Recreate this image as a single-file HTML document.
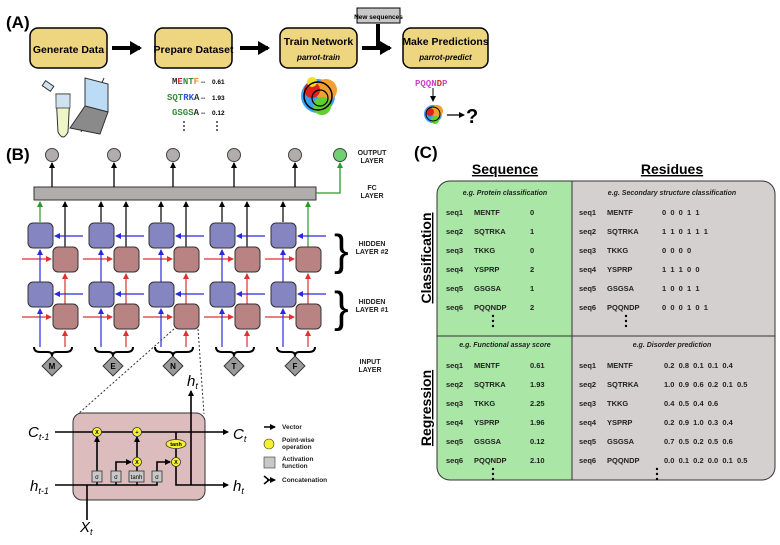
<!DOCTYPE html>
<html><head><meta charset="utf-8"><style>
body{margin:0;background:#fff}
svg{display:block;font-family:"Liberation Sans",sans-serif}
.b{font-weight:bold}
</style></head><body>
<svg width="780" height="545" viewBox="0 0 780 545" xmlns="http://www.w3.org/2000/svg">
<defs>
<marker id="ah" markerWidth="6" markerHeight="6" refX="5" refY="3" orient="auto" markerUnits="userSpaceOnUse"><path d="M0,0 L6,3 L0,6 z" fill="#000"/></marker>
<marker id="ab" markerWidth="6" markerHeight="6" refX="5" refY="3" orient="auto" markerUnits="userSpaceOnUse"><path d="M0,0 L6,3 L0,6 z" fill="#2a2ae0"/></marker>
<marker id="ar" markerWidth="6" markerHeight="6" refX="5" refY="3" orient="auto" markerUnits="userSpaceOnUse"><path d="M0,0 L6,3 L0,6 z" fill="#e03030"/></marker>
<marker id="ag" markerWidth="6" markerHeight="6" refX="5" refY="3" orient="auto" markerUnits="userSpaceOnUse"><path d="M0,0 L6,3 L0,6 z" fill="#2a9a2a"/></marker>
<marker id="big" markerWidth="12" markerHeight="14" refX="10" refY="7" orient="auto" markerUnits="userSpaceOnUse"><path d="M0,0 L12,7 L0,14 z" fill="#000"/></marker>
</defs>

<!-- (A) -->
<text x="6" y="28" font-size="17" class="b">(A)</text>
<g stroke="#000" stroke-width="1.5" fill="#eed680">
<rect x="30" y="28" width="77" height="40" rx="8"/>
<rect x="155" y="28" width="77" height="40" rx="8"/>
<rect x="280" y="28" width="77" height="40" rx="8"/>
<rect x="403" y="28" width="85" height="40" rx="8"/>
</g>
<text x="68.5" y="53" font-size="10.5" class="b" text-anchor="middle">Generate Data</text>
<text x="193.5" y="53" font-size="10.5" class="b" text-anchor="middle">Prepare Dataset</text>
<text x="318.5" y="45" font-size="10.5" class="b" text-anchor="middle">Train Network</text>
<text x="318.5" y="60" font-size="8" font-style="italic" font-weight="bold" text-anchor="middle">parrot-train</text>
<text x="445.5" y="45" font-size="10.5" class="b" text-anchor="middle">Make Predictions</text>
<text x="445.5" y="60" font-size="8" font-style="italic" font-weight="bold" text-anchor="middle">parrot-predict</text>
<g stroke="#000" stroke-width="4">
<line x1="112" y1="48" x2="140" y2="48" marker-end="url(#big)"/>
<line x1="240" y1="48" x2="268" y2="48" marker-end="url(#big)"/>
<line x1="362" y1="48" x2="390" y2="48" marker-end="url(#big)"/>
<line x1="378" y1="24" x2="378" y2="48"/>
</g>
<rect x="357" y="8" width="43" height="15" fill="#c8c8c8" stroke="#000"/>
<text x="378.5" y="19" font-size="6.5" class="b" text-anchor="middle">New sequences</text>
<!-- tube & laptop -->
<path d="M56,94 L70,94 L68,132 Q63,142 58,132 Z" fill="#eef6c8" stroke="#333"/>
<path d="M56,94 L70,94 L70,108 L56,108 Z" fill="#cfe2f0" stroke="#333" stroke-width="0.7"/>
<rect x="43" y="83" width="10" height="6" fill="#cfe2f0" stroke="#333" transform="rotate(35 48 86)"/>
<line x1="104" y1="78" x2="81" y2="132" stroke="#333"/>
<path d="M85,78 L108,84 L108,112 L85,106 Z" fill="#bcdcf5" stroke="#333"/>
<path d="M85,106 L108,112 L100,134 L70,128 Z" fill="#8a8a8a" stroke="#333"/>
<g font-family="Liberation Mono,monospace" font-size="9" font-weight="bold">
<text x="172" y="84"><tspan fill="#333">M</tspan><tspan fill="#d03030">E</tspan><tspan fill="#3a8a3a">N</tspan><tspan fill="#3a8a3a">T</tspan><tspan fill="#e89030">F</tspan></text>
<text x="167" y="100" fill="#3a8a3a">SQT<tspan fill="#3050e0">RK</tspan><tspan fill="#333">A</tspan></text>
<text x="172" y="115" fill="#3a8a3a">GSGS<tspan fill="#333">A</tspan></text>
<text x="415" y="86" fill="#d040d0">PQQN<tspan fill="#d03030">D</tspan>P</text>
</g>
<g font-size="6.5" class="b"><text x="201" y="84">--</text><text x="212" y="84">0.61</text>
<text x="201" y="100">--</text><text x="212" y="100">1.93</text>
<text x="201" y="115">--</text><text x="212" y="115">0.12</text></g>
<g fill="#000"><circle cx="184" cy="122" r="0.9"/><circle cx="184" cy="126" r="0.9"/><circle cx="184" cy="130" r="0.9"/>
<circle cx="217" cy="122" r="0.9"/><circle cx="217" cy="126" r="0.9"/><circle cx="217" cy="130" r="0.9"/></g>
<!-- parrots -->
<g>
<circle cx="318" cy="96" r="17" fill="#3aa0f0"/><circle cx="326" cy="90" r="11" fill="#f0a030"/><circle cx="312" cy="90" r="8" fill="#e02020"/><circle cx="322" cy="106" r="9" fill="#60d030"/><circle cx="312" cy="82" r="5" fill="#f0e020"/>
<circle cx="318" cy="96" r="14" fill="none" stroke="#000" stroke-width="1.5"/><circle cx="320" cy="98" r="8" fill="none" stroke="#000" stroke-width="1.2"/>
<circle cx="433" cy="114" r="9" fill="#3aa0f0"/><circle cx="437" cy="111" r="6" fill="#f0a030"/><circle cx="430" cy="112" r="4" fill="#e02020"/><circle cx="435" cy="120" r="4" fill="#60d030"/>
<circle cx="433" cy="114" r="7" fill="none" stroke="#000"/>
</g>
<line x1="433" y1="88" x2="433" y2="101" stroke="#000" marker-end="url(#ah)"/>
<line x1="447" y1="115" x2="464" y2="115" stroke="#000" stroke-width="1.3" marker-end="url(#ah)"/>
<text x="466" y="123" font-size="20" class="b">?</text>

<!-- (B) -->
<text x="6" y="160" font-size="17" class="b">(B)</text>
<g fill="#b2adad" stroke="#444">
<circle cx="52" cy="155" r="6.5"/><circle cx="114" cy="155" r="6.5"/><circle cx="173" cy="155" r="6.5"/><circle cx="234" cy="155" r="6.5"/><circle cx="295" cy="155" r="6.5"/>
</g>
<circle cx="340" cy="155" r="6.5" fill="#70d070" stroke="#444"/>
<rect x="34" y="187" width="282" height="13" fill="#b2adad" stroke="#333"/>
<g stroke="#000" stroke-width="1.3" marker-end="url(#ah)">
<line x1="52" y1="187" x2="52" y2="163"/><line x1="114" y1="187" x2="114" y2="163"/><line x1="173" y1="187" x2="173" y2="163"/><line x1="234" y1="187" x2="234" y2="163"/><line x1="295" y1="187" x2="295" y2="163"/>
</g>
<path d="M316,193 L340,193 L340,163" fill="none" stroke="#2a9a2a" stroke-width="1.3" marker-end="url(#ag)"/>
<g font-size="7" class="b" text-anchor="middle" fill="#222">
<text x="372" y="155">OUTPUT</text><text x="372" y="163">LAYER</text>
<text x="372" y="190">FC</text><text x="372" y="198">LAYER</text>
<text x="372" y="246">HIDDEN</text><text x="372" y="254">LAYER #2</text>
<text x="372" y="304">HIDDEN</text><text x="372" y="312">LAYER #1</text>
<text x="370" y="364">INPUT</text><text x="370" y="372">LAYER</text>
</g>
<g font-size="44" fill="#000"><text x="334" y="265">}</text><text x="334" y="322">}</text></g>

<g>
<g stroke-width="1.2">
<line x1="40" y1="222" x2="40" y2="202" stroke="#2a9a2a" marker-end="url(#ag)"/>
<line x1="65" y1="247" x2="65" y2="202" stroke="#000" marker-end="url(#ah)"/>
<line x1="83" y1="236" x2="55" y2="236" stroke="#2a2ae0" marker-end="url(#ab)"/>
<line x1="22" y1="259" x2="51" y2="259" stroke="#e03030" marker-end="url(#ar)"/>
<line x1="40" y1="282" x2="40" y2="250" stroke="#2a2ae0" marker-end="url(#ab)"/>
<line x1="65" y1="304" x2="65" y2="274" stroke="#e03030" marker-end="url(#ar)"/>
<line x1="83" y1="294" x2="55" y2="294" stroke="#2a2ae0" marker-end="url(#ab)"/>
<line x1="22" y1="317" x2="51" y2="317" stroke="#e03030" marker-end="url(#ar)"/>
<line x1="40" y1="347" x2="40" y2="309" stroke="#2a2ae0" marker-end="url(#ab)"/>
<line x1="65" y1="347" x2="65" y2="331" stroke="#e03030" marker-end="url(#ar)"/>
</g>
<g stroke="#333" stroke-width="1">
<rect x="28" y="223" width="25" height="25" rx="5" fill="#8585c2"/>
<rect x="53" y="247" width="25" height="25" rx="5" fill="#b98383"/>
<rect x="28" y="282" width="25" height="25" rx="5" fill="#8585c2"/>
<rect x="53" y="304" width="25" height="25" rx="5" fill="#b98383"/>
</g>
<path d="M34,347 Q34,352 40,352 L48,352 Q52,352 52,356 Q52,352 56,352 L66,352 Q72,352 72,347" fill="none" stroke="#000" stroke-width="2"/>
<rect x="45" y="359" width="14" height="14" fill="#999" stroke="#333" transform="rotate(45 52 366)"/>
</g>
<text x="52" y="369" font-size="8" class="b" text-anchor="middle">M</text>
<g transform="translate(61,0)">
<g stroke-width="1.2">
<line x1="40" y1="222" x2="40" y2="202" stroke="#000" marker-end="url(#ah)"/>
<line x1="65" y1="247" x2="65" y2="202" stroke="#000" marker-end="url(#ah)"/>
<line x1="83" y1="236" x2="55" y2="236" stroke="#2a2ae0" marker-end="url(#ab)"/>
<line x1="22" y1="259" x2="51" y2="259" stroke="#e03030" marker-end="url(#ar)"/>
<line x1="40" y1="282" x2="40" y2="250" stroke="#2a2ae0" marker-end="url(#ab)"/>
<line x1="65" y1="304" x2="65" y2="274" stroke="#e03030" marker-end="url(#ar)"/>
<line x1="83" y1="294" x2="55" y2="294" stroke="#2a2ae0" marker-end="url(#ab)"/>
<line x1="22" y1="317" x2="51" y2="317" stroke="#e03030" marker-end="url(#ar)"/>
<line x1="40" y1="347" x2="40" y2="309" stroke="#2a2ae0" marker-end="url(#ab)"/>
<line x1="65" y1="347" x2="65" y2="331" stroke="#e03030" marker-end="url(#ar)"/>
</g>
<g stroke="#333"><rect x="28" y="223" width="25" height="25" rx="5" fill="#8585c2"/><rect x="53" y="247" width="25" height="25" rx="5" fill="#b98383"/><rect x="28" y="282" width="25" height="25" rx="5" fill="#8585c2"/><rect x="53" y="304" width="25" height="25" rx="5" fill="#b98383"/></g>
<path d="M34,347 Q34,352 40,352 L48,352 Q52,352 52,356 Q52,352 56,352 L66,352 Q72,352 72,347" fill="none" stroke="#000" stroke-width="2"/>
<rect x="45" y="359" width="14" height="14" fill="#999" stroke="#333" transform="rotate(45 52 366)"/>
<text x="52" y="369" font-size="8" class="b" text-anchor="middle">E</text>
</g>
<g transform="translate(121,0)">
<g stroke-width="1.2">
<line x1="40" y1="222" x2="40" y2="202" stroke="#000" marker-end="url(#ah)"/>
<line x1="65" y1="247" x2="65" y2="202" stroke="#000" marker-end="url(#ah)"/>
<line x1="83" y1="236" x2="55" y2="236" stroke="#2a2ae0" marker-end="url(#ab)"/>
<line x1="22" y1="259" x2="51" y2="259" stroke="#e03030" marker-end="url(#ar)"/>
<line x1="40" y1="282" x2="40" y2="250" stroke="#2a2ae0" marker-end="url(#ab)"/>
<line x1="65" y1="304" x2="65" y2="274" stroke="#e03030" marker-end="url(#ar)"/>
<line x1="83" y1="294" x2="55" y2="294" stroke="#2a2ae0" marker-end="url(#ab)"/>
<line x1="22" y1="317" x2="51" y2="317" stroke="#e03030" marker-end="url(#ar)"/>
<line x1="40" y1="347" x2="40" y2="309" stroke="#2a2ae0" marker-end="url(#ab)"/>
<line x1="65" y1="347" x2="65" y2="331" stroke="#e03030" marker-end="url(#ar)"/>
</g>
<g stroke="#333"><rect x="28" y="223" width="25" height="25" rx="5" fill="#8585c2"/><rect x="53" y="247" width="25" height="25" rx="5" fill="#b98383"/><rect x="28" y="282" width="25" height="25" rx="5" fill="#8585c2"/><rect x="53" y="304" width="25" height="25" rx="5" fill="#b98383"/></g>
<path d="M34,347 Q34,352 40,352 L48,352 Q52,352 52,356 Q52,352 56,352 L66,352 Q72,352 72,347" fill="none" stroke="#000" stroke-width="2"/>
<rect x="45" y="359" width="14" height="14" fill="#999" stroke="#333" transform="rotate(45 52 366)"/>
<text x="52" y="369" font-size="8" class="b" text-anchor="middle">N</text>
</g>
<g transform="translate(182,0)">
<g stroke-width="1.2">
<line x1="40" y1="222" x2="40" y2="202" stroke="#000" marker-end="url(#ah)"/>
<line x1="65" y1="247" x2="65" y2="202" stroke="#000" marker-end="url(#ah)"/>
<line x1="83" y1="236" x2="55" y2="236" stroke="#2a2ae0" marker-end="url(#ab)"/>
<line x1="22" y1="259" x2="51" y2="259" stroke="#e03030" marker-end="url(#ar)"/>
<line x1="40" y1="282" x2="40" y2="250" stroke="#2a2ae0" marker-end="url(#ab)"/>
<line x1="65" y1="304" x2="65" y2="274" stroke="#e03030" marker-end="url(#ar)"/>
<line x1="83" y1="294" x2="55" y2="294" stroke="#2a2ae0" marker-end="url(#ab)"/>
<line x1="22" y1="317" x2="51" y2="317" stroke="#e03030" marker-end="url(#ar)"/>
<line x1="40" y1="347" x2="40" y2="309" stroke="#2a2ae0" marker-end="url(#ab)"/>
<line x1="65" y1="347" x2="65" y2="331" stroke="#e03030" marker-end="url(#ar)"/>
</g>
<g stroke="#333"><rect x="28" y="223" width="25" height="25" rx="5" fill="#8585c2"/><rect x="53" y="247" width="25" height="25" rx="5" fill="#b98383"/><rect x="28" y="282" width="25" height="25" rx="5" fill="#8585c2"/><rect x="53" y="304" width="25" height="25" rx="5" fill="#b98383"/></g>
<path d="M34,347 Q34,352 40,352 L48,352 Q52,352 52,356 Q52,352 56,352 L66,352 Q72,352 72,347" fill="none" stroke="#000" stroke-width="2"/>
<rect x="45" y="359" width="14" height="14" fill="#999" stroke="#333" transform="rotate(45 52 366)"/>
<text x="52" y="369" font-size="8" class="b" text-anchor="middle">T</text>
</g>
<g transform="translate(243,0)">
<g stroke-width="1.2">
<line x1="40" y1="222" x2="40" y2="202" stroke="#000" marker-end="url(#ah)"/>
<line x1="65" y1="247" x2="65" y2="202" stroke="#2a9a2a" marker-end="url(#ag)"/>
<line x1="83" y1="236" x2="55" y2="236" stroke="#2a2ae0" marker-end="url(#ab)"/>
<line x1="22" y1="259" x2="51" y2="259" stroke="#e03030" marker-end="url(#ar)"/>
<line x1="40" y1="282" x2="40" y2="250" stroke="#2a2ae0" marker-end="url(#ab)"/>
<line x1="65" y1="304" x2="65" y2="274" stroke="#e03030" marker-end="url(#ar)"/>
<line x1="83" y1="294" x2="55" y2="294" stroke="#2a2ae0" marker-end="url(#ab)"/>
<line x1="22" y1="317" x2="51" y2="317" stroke="#e03030" marker-end="url(#ar)"/>
<line x1="40" y1="347" x2="40" y2="309" stroke="#2a2ae0" marker-end="url(#ab)"/>
<line x1="65" y1="347" x2="65" y2="331" stroke="#e03030" marker-end="url(#ar)"/>
</g>
<g stroke="#333"><rect x="28" y="223" width="25" height="25" rx="5" fill="#8585c2"/><rect x="53" y="247" width="25" height="25" rx="5" fill="#b98383"/><rect x="28" y="282" width="25" height="25" rx="5" fill="#8585c2"/><rect x="53" y="304" width="25" height="25" rx="5" fill="#b98383"/></g>
<path d="M34,347 Q34,352 40,352 L48,352 Q52,352 52,356 Q52,352 56,352 L66,352 Q72,352 72,347" fill="none" stroke="#000" stroke-width="2"/>
<rect x="45" y="359" width="14" height="14" fill="#999" stroke="#333" transform="rotate(45 52 366)"/>
<text x="52" y="369" font-size="8" class="b" text-anchor="middle">F</text>
</g>

<!-- dashed zoom lines -->
<line x1="174" y1="329" x2="78" y2="414" stroke="#333" stroke-dasharray="2,2"/>
<line x1="198" y1="329" x2="204" y2="414" stroke="#333" stroke-dasharray="2,2"/>

<!-- LSTM cell -->
<rect x="73" y="413" width="132" height="87" rx="9" fill="#dcbcbc" stroke="#333"/>
<g stroke="#000" stroke-width="1.6" fill="none">
<line x1="55" y1="432" x2="228" y2="432" marker-end="url(#ah)"/>
<path d="M55,485 L157,485 L157,470"/>
<path d="M176,432 L176,440 M176,448 L176,458 M176,466 L176,485 L228,485" marker-end="url(#ah)"/>
<line x1="191" y1="485" x2="191" y2="391" marker-end="url(#ah)"/>
<line x1="87" y1="520" x2="87" y2="485"/>
<line x1="97" y1="471" x2="97" y2="437" marker-end="url(#ah)"/>
<path d="M116,471 L116,462 L131,462" marker-end="url(#ah)"/>
<line x1="137" y1="471" x2="137" y2="467"/>
<line x1="137" y1="457" x2="137" y2="437" marker-end="url(#ah)"/>
<path d="M157,471 L157,462 L170,462" marker-end="url(#ah)"/>
<line x1="97" y1="482" x2="97" y2="485"/><line x1="116" y1="482" x2="116" y2="485"/><line x1="137" y1="482" x2="137" y2="485"/>
</g>
<g fill="#f5f030" stroke="#333" stroke-width="0.8">
<circle cx="97" cy="432" r="4.5"/><circle cx="137" cy="432" r="4.5"/><circle cx="137" cy="462" r="4.5"/><circle cx="176" cy="462" r="4.5"/>
<ellipse cx="176" cy="444" rx="10" ry="4.5"/>
</g>
<g font-size="5.5" text-anchor="middle" class="b"><text x="97" y="434">X</text><text x="137" y="434">+</text><text x="137" y="464">X</text><text x="176" y="464">X</text><text x="176" y="446">tanh</text></g>
<g fill="#c8c8c8" stroke="#333" stroke-width="0.8">
<rect x="92" y="471" width="10" height="11"/><rect x="111" y="471" width="10" height="11"/><rect x="129" y="471" width="15" height="11"/><rect x="152" y="471" width="10" height="11"/>
</g>
<g font-size="6" text-anchor="middle"><text x="97" y="479">σ</text><text x="116" y="479">σ</text><text x="136.5" y="479">tanh</text><text x="157" y="479">σ</text></g>
<g font-size="15" font-style="italic">
<text x="28" y="437">C<tspan font-size="9" dy="3">t-1</tspan></text>
<text x="233" y="439">C<tspan font-size="9" dy="3">t</tspan></text>
<text x="30" y="491">h<tspan font-size="9" dy="3">t-1</tspan></text>
<text x="233" y="491">h<tspan font-size="9" dy="3">t</tspan></text>
<text x="187" y="386">h<tspan font-size="9" dy="3">t</tspan></text>
<text x="80" y="532">X<tspan font-size="9" dy="3">t</tspan></text>
</g>
<!-- legend -->
<line x1="264" y1="427" x2="275" y2="427" stroke="#000" stroke-width="1.5" marker-end="url(#ah)"/>
<circle cx="269" cy="444" r="5" fill="#f5f030" stroke="#333" stroke-width="0.6"/>
<rect x="264" y="457" width="11" height="11" fill="#c8c8c8" stroke="#333" stroke-width="0.6"/>
<path d="M264,476 L269,480 L264,484 M267,480 L275,480" fill="none" stroke="#000" stroke-width="1.5" marker-end="url(#ah)"/>
<g font-size="6.5" class="b" fill="#222">
<text x="282" y="429">Vector</text>
<text x="282" y="442">Point-wise</text><text x="282" y="449">operation</text>
<text x="282" y="461">Activation</text><text x="282" y="468">function</text>
<text x="282" y="482">Concatenation</text>
</g>

<!-- (C) -->
<text x="414" y="158" font-size="17" class="b">(C)</text>
<text x="505" y="174" font-size="14" class="b" text-anchor="middle" text-decoration="underline">Sequence</text>
<text x="672" y="174" font-size="14" class="b" text-anchor="middle" text-decoration="underline">Residues</text>
<path d="M572,181 L762,181 Q775,181 775,194 L775,467 Q775,480 762,480 L572,480 Z" fill="#d4d0d0"/>
<path d="M572,181 L450,181 Q437,181 437,194 L437,467 Q437,480 450,480 L572,480 Z" fill="#aae6a6"/>
<rect x="437" y="181" width="338" height="299" rx="13" fill="none" stroke="#333"/>
<line x1="572" y1="181" x2="572" y2="480" stroke="#333"/>
<line x1="437" y1="336" x2="775" y2="336" stroke="#333"/>
<text transform="translate(431,258) rotate(-90)" font-size="14" class="b" text-anchor="middle" text-decoration="underline">Classification</text>
<text transform="translate(431,408) rotate(-90)" font-size="14" class="b" text-anchor="middle" text-decoration="underline">Regression</text>
<g font-size="7" font-style="italic" font-weight="bold" text-anchor="middle" fill="#222">
<text x="505" y="195">e.g. Protein classification</text>
<text x="672" y="195">e.g. Secondary structure classification</text>
<text x="505" y="347">e.g. Functional assay score</text>
<text x="672" y="347">e.g. Disorder prediction</text>
</g>
<g font-size="7.5" class="b" fill="#222">
<text x="446" y="215">seq1</text><text x="474" y="215">MENTF</text><text x="530" y="215">0</text>
<text x="446" y="234">seq2</text><text x="474" y="234">SQTRKA</text><text x="530" y="234">1</text>
<text x="446" y="253">seq3</text><text x="474" y="253">TKKG</text><text x="530" y="253">0</text>
<text x="446" y="272">seq4</text><text x="474" y="272">YSPRP</text><text x="530" y="272">2</text>
<text x="446" y="291">seq5</text><text x="474" y="291">GSGSA</text><text x="530" y="291">1</text>
<text x="446" y="310">seq6</text><text x="474" y="310">PQQNDP</text><text x="530" y="310">2</text>
<text x="579" y="215">seq1</text><text x="607" y="215">MENTF</text><text x="662" y="215" xml:space="preserve">0  0  0  1  1</text>
<text x="579" y="234">seq2</text><text x="607" y="234">SQTRKA</text><text x="662" y="234" xml:space="preserve">1  1  0  1  1  1</text>
<text x="579" y="253">seq3</text><text x="607" y="253">TKKG</text><text x="662" y="253" xml:space="preserve">0  0  0  0</text>
<text x="579" y="272">seq4</text><text x="607" y="272">YSPRP</text><text x="662" y="272" xml:space="preserve">1  1  1  0  0</text>
<text x="579" y="291">seq5</text><text x="607" y="291">GSGSA</text><text x="662" y="291" xml:space="preserve">1  0  0  1  1</text>
<text x="579" y="310">seq6</text><text x="607" y="310">PQQNDP</text><text x="662" y="310" xml:space="preserve">0  0  0  1  0  1</text>

<text x="446" y="368">seq1</text><text x="474" y="368">MENTF</text><text x="530" y="368">0.61</text>
<text x="446" y="387">seq2</text><text x="474" y="387">SQTRKA</text><text x="530" y="387">1.93</text>
<text x="446" y="406">seq3</text><text x="474" y="406">TKKG</text><text x="530" y="406">2.25</text>
<text x="446" y="425">seq4</text><text x="474" y="425">YSPRP</text><text x="530" y="425">1.96</text>
<text x="446" y="444">seq5</text><text x="474" y="444">GSGSA</text><text x="530" y="444">0.12</text>
<text x="446" y="463">seq6</text><text x="474" y="463">PQQNDP</text><text x="530" y="463">2.10</text>
<text x="579" y="368">seq1</text><text x="607" y="368">MENTF</text><text x="664" y="368" xml:space="preserve">0.2  0.8  0.1  0.1  0.4</text>
<text x="579" y="387">seq2</text><text x="607" y="387">SQTRKA</text><text x="664" y="387" xml:space="preserve">1.0  0.9  0.6  0.2  0.1  0.5</text>
<text x="579" y="406">seq3</text><text x="607" y="406">TKKG</text><text x="664" y="406" xml:space="preserve">0.4  0.5  0.4  0.6</text>
<text x="579" y="425">seq4</text><text x="607" y="425">YSPRP</text><text x="664" y="425" xml:space="preserve">0.2  0.9  1.0  0.3  0.4</text>
<text x="579" y="444">seq5</text><text x="607" y="444">GSGSA</text><text x="664" y="444" xml:space="preserve">0.7  0.5  0.2  0.5  0.6</text>
<text x="579" y="463">seq6</text><text x="607" y="463">PQQNDP</text><text x="664" y="463" xml:space="preserve">0.0  0.1  0.2  0.0  0.1  0.5</text>
</g>
<g fill="#000">
<circle cx="493" cy="316" r="1.2"/><circle cx="493" cy="321" r="1.2"/><circle cx="493" cy="326" r="1.2"/>
<circle cx="626" cy="316" r="1.2"/><circle cx="626" cy="321" r="1.2"/><circle cx="626" cy="326" r="1.2"/>
<circle cx="493" cy="469" r="1.2"/><circle cx="493" cy="474" r="1.2"/><circle cx="493" cy="479" r="1.2"/>
<circle cx="657" cy="469" r="1.2"/><circle cx="657" cy="474" r="1.2"/><circle cx="657" cy="479" r="1.2"/>
</g>
</svg>
</body></html>
